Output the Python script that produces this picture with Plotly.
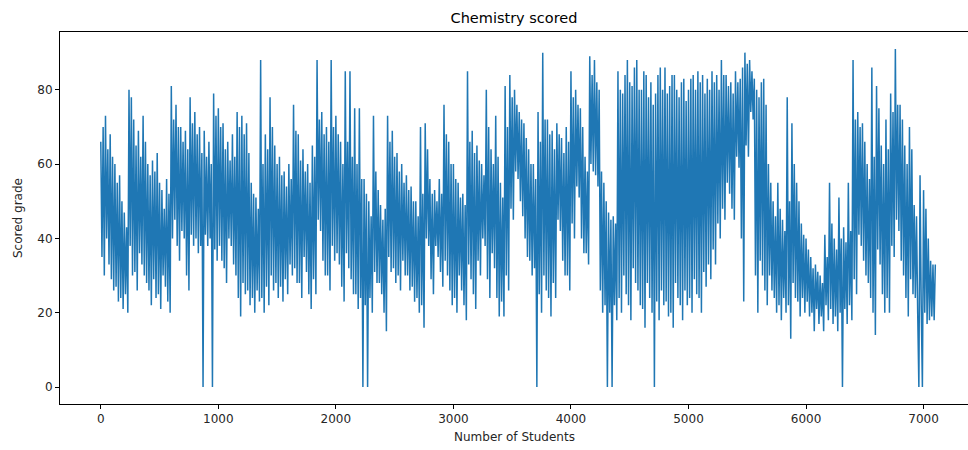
import numpy as np
import plotly.graph_objects as go

# Chemistry grades, one value every STEP students (peaks / troughs)
STEP = 10
grades = [
    66, 35, 70, 30, 73, 40, 64, 33, 68, 29, 62, 26, 60, 27, 55, 23, 57, 24, 50, 21,
    47, 25, 43, 20, 80, 38, 78, 30, 72, 31, 65, 26, 69, 36, 62, 33, 73, 30, 66, 28,
    60, 26, 57, 22, 61, 29, 58, 24, 63, 25, 55, 21, 53, 30, 48, 27, 56, 23, 52, 20,
    81, 40, 72, 45, 76, 38, 70, 34, 70, 42, 66, 40, 69, 30, 64, 26, 78, 41, 71, 38,
    74, 40, 68, 36, 70, 38, 63, 0, 69, 41, 62, 38, 66, 40, 60, 0, 79, 37, 73, 34,
    75, 38, 70, 34, 71, 32, 64, 28, 66, 40, 61, 38, 68, 33, 62, 30, 74, 24, 70, 19,
    73, 28, 68, 25, 71, 26, 63, 22, 55, 24, 52, 20, 51, 26, 48, 23, 88, 24, 60, 20,
    68, 27, 64, 22, 78, 30, 70, 26, 65, 28, 60, 24, 62, 27, 57, 23, 58, 29, 54, 25,
    60, 33, 56, 30, 76, 32, 69, 28, 68, 28, 61, 24, 64, 35, 58, 31, 60, 25, 55, 21,
    65, 29, 62, 25, 88, 45, 72, 42, 74, 34, 68, 30, 70, 30, 66, 26, 88, 38, 70, 34,
    73, 36, 68, 33, 66, 27, 60, 23, 85, 36, 66, 32, 85, 29, 62, 25, 75, 25, 60, 21,
    75, 24, 56, 0, 56, 22, 52, 0, 50, 24, 46, 20, 73, 31, 58, 28, 53, 28, 49, 25,
    45, 20, 48, 15, 73, 35, 66, 31, 69, 32, 62, 28, 63, 30, 58, 26, 60, 34, 55, 30,
    57, 30, 53, 26, 54, 27, 50, 23, 50, 24, 46, 20, 70, 22, 52, 16, 71, 40, 64, 38,
    56, 29, 52, 25, 53, 38, 50, 35, 56, 31, 52, 27, 76, 34, 68, 30, 66, 26, 60, 22,
    60, 24, 56, 20, 55, 30, 51, 26, 52, 22, 49, 18, 85, 33, 66, 29, 69, 25, 63, 21,
    65, 34, 61, 30, 60, 40, 57, 38, 80, 29, 70, 24, 64, 36, 60, 32, 73, 24, 62, 19,
    55, 23, 51, 19, 81, 30, 70, 26, 84, 48, 78, 45, 80, 58, 76, 56, 74, 50, 72, 46,
    71, 40, 67, 35, 64, 34, 60, 30, 60, 32, 56, 0, 74, 25, 66, 20, 90, 30, 72, 26,
    72, 24, 68, 19, 69, 28, 64, 24, 71, 45, 68, 42, 67, 34, 63, 30, 70, 30, 66, 26,
    85, 44, 78, 40, 80, 54, 76, 51, 75, 40, 70, 36, 62, 36, 58, 33, 89, 60, 84, 58,
    88, 57, 82, 54, 80, 26, 58, 20, 55, 22, 50, 0, 47, 20, 45, 0, 46, 22, 44, 18,
    85, 24, 80, 20, 79, 30, 84, 25, 88, 22, 82, 18, 81, 32, 86, 28, 88, 26, 80, 22,
    80, 21, 85, 16, 84, 28, 78, 24, 82, 20, 76, 0, 79, 23, 84, 18, 86, 26, 80, 22,
    86, 23, 79, 19, 81, 20, 84, 16, 84, 28, 80, 24, 78, 22, 82, 18, 83, 26, 77, 22,
    80, 24, 83, 20, 84, 29, 80, 25, 85, 24, 82, 20, 84, 31, 79, 27, 83, 33, 80, 29,
    85, 37, 82, 33, 84, 44, 80, 40, 88, 48, 84, 45, 84, 55, 81, 52, 82, 48, 79, 45,
    85, 62, 82, 59, 83, 40, 86, 23, 90, 65, 87, 62, 88, 74, 85, 72, 83, 30, 80, 20,
    78, 34, 82, 30, 83, 26, 76, 22, 60, 30, 55, 26, 50, 24, 46, 20, 55, 22, 48, 18,
    45, 24, 42, 20, 78, 22, 50, 13, 71, 28, 60, 24, 55, 23, 50, 19, 44, 24, 41, 20,
    40, 23, 37, 19, 35, 20, 32, 15, 33, 21, 31, 17, 30, 19, 28, 15, 41, 22, 35, 18,
    55, 21, 44, 17, 40, 19, 37, 15, 51, 20, 40, 0, 43, 21, 39, 17, 55, 22, 42, 18,
    88, 29, 72, 25, 74, 41, 70, 38, 71, 34, 66, 30, 60, 28, 56, 24, 86, 20, 62, 14,
    81, 37, 75, 33, 65, 25, 60, 20, 72, 24, 64, 20, 79, 38, 74, 35, 91, 45, 76, 42,
    76, 34, 72, 30, 65, 24, 60, 19, 70, 29, 64, 25, 49, 24, 46, 20,
    0, 57, 22, 0, 53, 20, 48, 17, 40, 18, 34, 19, 33, 18, 33,
]
students = np.arange(len(grades)) * STEP

x_ticks = [0, 1000, 2000, 3000, 4000, 5000, 6000, 7000]
y_ticks = [0, 20, 40, 60, 80]

fig = go.Figure(go.Scatter(
    x=students, y=grades, mode="lines",
    line=dict(color="#1f77b4", width=1.5, simplify=False),
    hoverinfo="x+y",
))

font = dict(family="DejaVu Sans", size=12, color="#262626")
axis_common = dict(
    showgrid=False, zeroline=False, automargin=False,
    showline=True, linecolor="black", linewidth=1, mirror=True,
    ticks="outside", ticklen=4, tickcolor="black", tickwidth=1,
    tickfont=font,
)

fig.update_layout(
    width=968, height=450,
    margin=dict(l=60, r=0, t=32, b=46),
    paper_bgcolor="white", plot_bgcolor="white",
    showlegend=False,
    title=dict(text="Chemistry scored", x=0.5, xref="paper", xanchor="center",
               y=1 - 18 / 450, yref="container", yanchor="middle",
               font=dict(family="DejaVu Sans", size=14.5, color="black"),
               automargin=False),
    xaxis=dict(axis_common, range=[-347, 7378], tickvals=x_ticks),
    yaxis=dict(axis_common, range=[-4.55, 95.55], tickvals=y_ticks),
    annotations=[
        dict(text="Number of Students", xref="paper", yref="paper", x=0.5, y=0,
             yshift=-33, xanchor="center", yanchor="middle", showarrow=False, font=font),
        dict(text="Scored grade", xref="paper", yref="paper", x=0, y=0.5,
             xshift=-42, xanchor="center", yanchor="middle", textangle=-90,
             showarrow=False, font=font),
    ],
)

fig.write_html("out.html", config={"displayModeBar": False},
               post_script="document.body.style.margin='0';document.body.style.overflow='hidden';")
